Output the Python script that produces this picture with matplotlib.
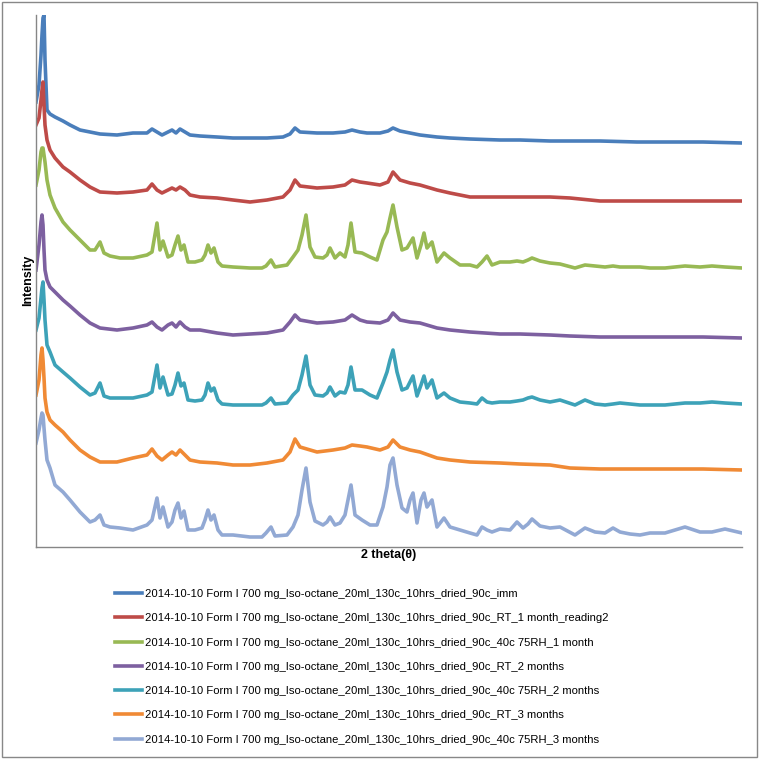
import matplotlib
matplotlib.use("Agg")
import matplotlib.pyplot as plt
from matplotlib.patches import Rectangle

plt.rcParams['font.family'] = ['Liberation Sans', 'DejaVu Sans']

# 2-theta grid for the amorphous-looking scans (RT series + imm)
tt_a = [1.80, 1.95, 2.05, 2.10, 2.15, 2.20, 2.25, 2.35, 2.50, 2.75,
        3.15, 3.50, 4.00, 4.50, 5.00, 5.85, 6.65, 7.35, 7.60, 7.85,
        8.10, 8.40, 8.60, 8.80, 9.00, 9.25, 9.50, 10.00, 10.85, 11.65,
        12.50, 13.35, 14.15, 14.50, 14.75, 15.00, 15.85, 16.65, 17.25, 17.60,
        18.00, 18.35, 19.00, 19.40, 19.65, 20.00, 20.50, 21.00, 21.85, 22.50,
        23.50, 25.00, 26.00, 27.50, 28.50, 30.00, 31.85, 33.50, 35.15, 37.10]

imm = [445, 462, 492, 512, 529, 532, 487, 437, 433, 430,
       426, 422, 417, 415, 413, 412, 414, 414, 418, 415,
       412, 415, 417, 414, 418, 415, 412, 411, 410, 409,
       409, 409, 410, 413, 419, 415, 414, 414, 415, 417,
       415, 414, 414, 416, 419, 416, 414, 412, 410, 409,
       408, 407, 407, 406, 406, 406, 405, 405, 405, 404]

rt_1m = [422, 429, 447, 457, 465, 442, 422, 407, 397, 389,
         380, 375, 367, 360, 355, 354, 355, 357, 363, 357,
         354, 357, 359, 357, 360, 357, 352, 350, 349, 347,
         345, 347, 350, 357, 367, 361, 359, 360, 362, 367,
         365, 364, 362, 365, 375, 367, 364, 362, 357, 354,
         350, 350, 350, 350, 349, 346, 346, 346, 346, 346]

rt_2m = [277, 302, 325, 332, 322, 297, 277, 267, 260, 255,
         247, 241, 232, 224, 219, 217, 219, 222, 225, 220,
         217, 222, 224, 220, 225, 220, 217, 217, 214, 212,
         213, 214, 217, 225, 232, 227, 224, 225, 227, 232,
         227, 225, 224, 227, 234, 227, 225, 224, 219, 217,
         215, 213, 213, 212, 211, 210, 210, 210, 210, 209]

rt_3m = [152, 167, 192, 199, 187, 169, 149, 135, 127, 122,
         115, 107, 97, 90, 85, 85, 89, 92, 98, 91,
         87, 92, 95, 92, 97, 92, 87, 85, 84, 82,
         82, 84, 87, 95, 108, 100, 95, 97, 99, 102,
         101, 100, 97, 100, 107, 100, 97, 95, 89, 87,
         85, 84, 83, 82, 79, 78, 78, 78, 78, 77]

# 2-theta grid for the crystalline scans (40c 75RH series)
tt_c = [1.80, 1.95, 2.05, 2.10, 2.15, 2.20, 2.25, 2.35, 2.50, 2.75,
        3.15, 3.50, 4.00, 4.50, 4.75, 5.00, 5.20, 5.50, 6.00, 6.65,
        7.35, 7.60, 7.85, 8.00, 8.15, 8.40, 8.60, 8.75, 8.90, 9.05,
        9.20, 9.40, 9.75, 10.10, 10.25, 10.40, 10.55, 10.70, 10.90, 11.10,
        11.65, 12.50, 13.10, 13.30, 13.55, 13.75, 14.35, 14.65, 14.90, 15.10,
        15.30, 15.50, 15.75, 16.15, 16.35, 16.50, 16.75, 17.00, 17.25, 17.40,
        17.55, 17.75, 18.10, 18.50, 18.85, 19.15, 19.35, 19.50, 19.65, 19.85,
        20.10, 20.35, 20.50, 20.65, 20.85, 21.05, 21.20, 21.35, 21.60, 21.85,
        22.20, 22.50, 23.00, 23.50, 23.85, 24.10, 24.35, 24.60, 25.00, 25.50,
        25.85, 26.15, 26.40, 26.60, 27.00, 27.50, 28.00, 28.75, 29.25, 29.75,
        30.25, 30.65, 31.00, 31.50, 32.00, 32.50, 33.25, 34.25, 35.00, 35.60,
        36.25, 37.10]

rh_1m = [362, 377, 395, 399, 399, 392, 385, 367, 352, 339,
         325, 317, 307, 297, 297, 305, 294, 291, 289, 289,
         292, 295, 324, 297, 306, 290, 292, 302, 311, 297,
         302, 285, 285, 287, 292, 302, 294, 299, 285, 281,
         280, 279, 279, 281, 287, 280, 282, 290, 297, 312,
         332, 300, 290, 289, 292, 299, 289, 294, 290, 302,
         324, 295, 294, 290, 287, 307, 315, 329, 342, 320,
         297, 299, 304, 309, 289, 302, 314, 299, 305, 285,
         294, 289, 282, 282, 280, 285, 291, 282, 285, 285,
         286, 285, 287, 289, 286, 284, 283, 279, 282, 281,
         280, 281, 280, 280, 280, 279, 279, 281, 280, 281,
         280, 279]

rh_2m = [217, 229, 249, 259, 265, 247, 227, 202, 195, 182,
         175, 169, 160, 152, 154, 164, 151, 149, 149, 149,
         152, 155, 182, 159, 170, 152, 153, 162, 174, 161,
         164, 147, 146, 147, 152, 164, 156, 159, 147, 143,
         142, 142, 142, 144, 149, 143, 144, 152, 157, 172,
         191, 162, 152, 151, 154, 160, 151, 155, 154, 162,
         180, 157, 157, 152, 149, 164, 175, 187, 197, 175,
         157, 159, 165, 171, 151, 162, 171, 159, 167, 149,
         154, 149, 145, 144, 143, 149, 145, 144, 145, 145,
         146, 147, 149, 150, 147, 145, 147, 142, 147, 143,
         142, 143, 144, 143, 142, 142, 142, 144, 144, 145,
         144, 143]

rh_3m = [104, 117, 129, 134, 132, 119, 107, 87, 79, 62,
         55, 47, 35, 25, 27, 32, 22, 20, 19, 17,
         22, 27, 49, 29, 40, 20, 25, 37, 44, 29,
         36, 17, 17, 19, 27, 37, 27, 32, 17, 12,
         12, 10, 10, 14, 20, 11, 12, 20, 32, 57,
         79, 45, 26, 22, 25, 30, 22, 24, 32, 47,
         62, 32, 27, 22, 22, 40, 60, 82, 89, 62,
         39, 35, 47, 54, 24, 47, 54, 40, 47, 20,
         29, 20, 17, 14, 12, 20, 17, 15, 18, 17,
         25, 19, 23, 28, 21, 19, 20, 12, 19, 15,
         14, 19, 15, 13, 12, 14, 14, 20, 15, 15,
         18, 14]

prefix = "2014-10-10 Form I 700 mg_Iso-octane_20ml_130c_10hrs_dried_90c_"
series = [
    (tt_a, imm, prefix + "imm", '#4A7EBB'),
    (tt_a, rt_1m, prefix + "RT_1 month_reading2", '#BE4B48'),
    (tt_c, rh_1m, prefix + "40c 75RH_1 month", '#98B954'),
    (tt_a, rt_2m, prefix + "RT_2 months", '#7D60A0'),
    (tt_c, rh_2m, prefix + "40c 75RH_2 months", '#3DA2B8'),
    (tt_a, rt_3m, prefix + "RT_3 months", '#F08A35'),
    (tt_c, rh_3m, prefix + "40c 75RH_3 months", '#92A9D4'),
]

fig = plt.figure(figsize=(7.59, 7.59), dpi=100)
ax = fig.add_axes([36 / 759, 1 - 547 / 759, 706 / 759, 532 / 759])

for x, y, label, color in series:
    ax.plot(x, y, color=color, lw=2.6, label=label, solid_joinstyle='round')

ax.set_xlim(1.8, 37.1)
ax.set_ylim(0, 532)
ax.set_xticks([])
ax.set_yticks([])
for side in ('top', 'right'):
    ax.spines[side].set_visible(False)
for side in ('left', 'bottom'):
    ax.spines[side].set_color('#868686')
    ax.spines[side].set_linewidth(1)

fig.text(28 / 759, 1 - 280 / 759, "Intensity", rotation=90, ha='center', va='center',
         fontsize=9, fontweight='bold')
fig.text(389 / 759, 1 - 555 / 759, "2 theta(θ)", ha='center', va='center',
         fontsize=9, fontweight='bold')

fig.legend(loc='upper left', bbox_to_anchor=(115 / 759, 1 - 589 / 759),
           frameon=False, fontsize=8.15, handlelength=2.4, handletextpad=0.27,
           labelspacing=1.26, borderpad=0, borderaxespad=0)

fig.patches.append(Rectangle((0.002, 0.002), 0.996, 0.996, transform=fig.transFigure,
                             fill=False, edgecolor='#888888', lw=1))

fig.savefig("out.png", dpi=100)
